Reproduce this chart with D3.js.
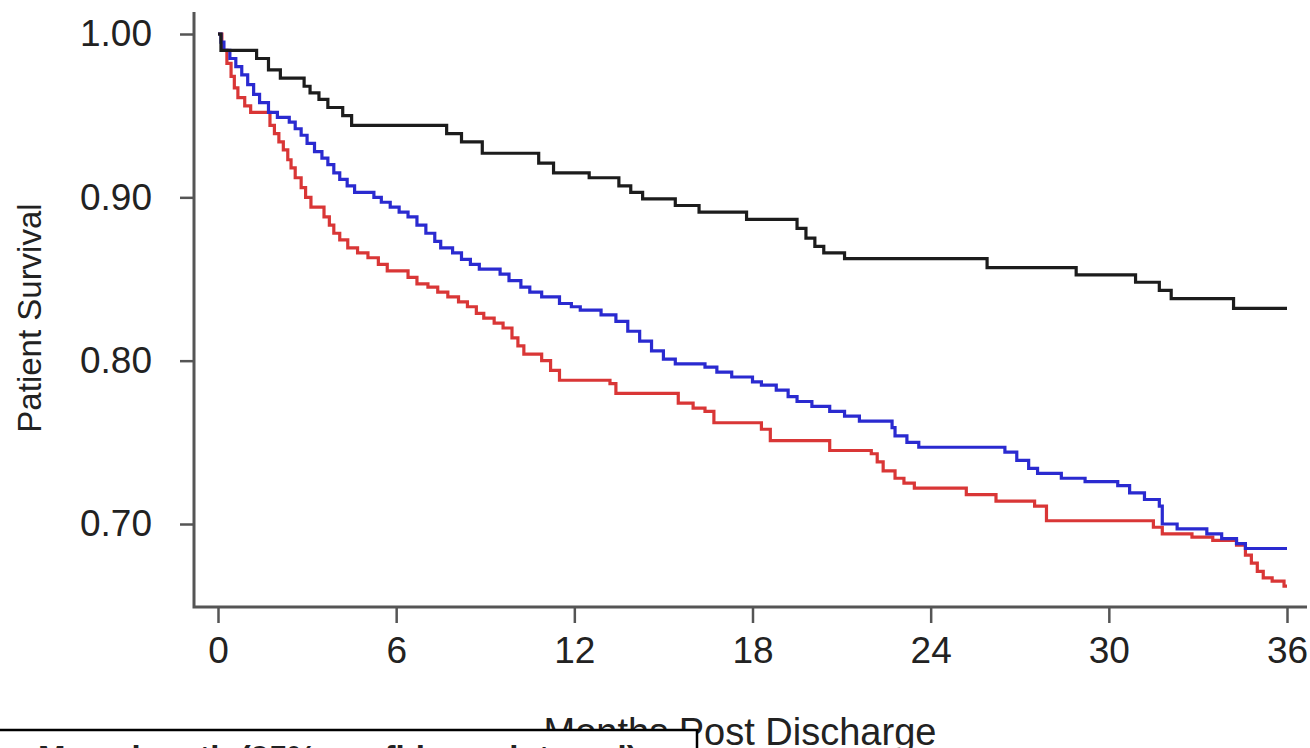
<!DOCTYPE html>
<html>
<head>
<meta charset="utf-8">
<script src="https://cdn.jsdelivr.net/npm/d3@7"></script>
<style>
  html, body { margin: 0; padding: 0; background: #fff; overflow: hidden; }
  svg { display: block; }
  text { font-family: "Liberation Sans", Arial, sans-serif; fill: #222; }
</style>
</head>
<body>
<div id="chart"></div>
<script>
// tick values
var xTicks = [0, 6, 12, 18, 24, 30, 36];
var yTicks = [0.70, 0.80, 0.90, 1.00];

// survival steps [month, survival]
var blackSteps = [[0,1.0],[0.1,0.99],[1.3,0.985],[1.7,0.978],[2.1,0.973],[2.9,0.968],[3.1,0.964],[3.4,0.96],
  [3.7,0.955],[4.2,0.95],[4.5,0.944],[7.7,0.939],[8.2,0.934],[8.9,0.927],[10.8,0.921],[11.3,0.915],
  [12.5,0.912],[13.5,0.907],[13.9,0.903],[14.3,0.899],[15.4,0.895],[16.2,0.891],[17.8,0.8865],[19.5,0.881],
  [19.8,0.875],[20.1,0.870],[20.4,0.866],[21.1,0.8625],[25.9,0.857],[28.9,0.8525],[30.9,0.848],[31.7,0.843],
  [32.1,0.838],[34.2,0.832],[36,0.832]];

var blueSteps = [[0,1],[0.1,0.995],[0.2,0.99],[0.4,0.985],[0.6,0.98],[0.8,0.975],[1.0,0.969],[1.2,0.963],
  [1.4,0.958],[1.7,0.952],[2.0,0.949],[2.4,0.946],[2.6,0.942],[2.8,0.938],[3.0,0.933],[3.25,0.928],
  [3.5,0.924],[3.7,0.92],[3.9,0.915],[4.1,0.911],[4.35,0.907],[4.6,0.903],[5.25,0.9],[5.5,0.897],
  [5.8,0.894],[6.1,0.891],[6.4,0.888],[6.7,0.883],[7.0,0.878],[7.3,0.873],[7.5,0.869],[7.9,0.866],
  [8.2,0.862],[8.5,0.859],[8.8,0.856],[9.5,0.853],[9.8,0.849],[10.2,0.845],[10.5,0.842],[10.9,0.839],
  [11.5,0.835],[11.9,0.833],[12.2,0.831],[12.9,0.828],[13.4,0.824],[13.8,0.818],[14.2,0.812],[14.6,0.806],
  [15.0,0.801],[15.4,0.798],[16.4,0.796],[16.8,0.793],[17.3,0.79],[18.0,0.787],[18.3,0.785],[18.8,0.782],
  [19.2,0.778],[19.5,0.775],[20.0,0.772],[20.6,0.769],[21.1,0.766],[21.6,0.763],[22.7,0.759],[22.8,0.754],
  [23.2,0.75],[23.6,0.747],[26.5,0.744],[26.9,0.739],[27.3,0.734],[27.6,0.731],[28.4,0.728],[29.2,0.726],
  [30.3,0.7235],[30.7,0.719],[31.2,0.715],[31.7,0.711],[31.8,0.7],[32.3,0.697],[33.3,0.694],[33.8,0.691],
  [34.3,0.688],[34.6,0.685],[36,0.685]];

var redSteps = [[0,1],[0.13,0.99],[0.3,0.982],[0.44,0.974],[0.55,0.967],[0.67,0.961],[0.9,0.956],[1.1,0.952],
  [1.75,0.944],[1.9,0.939],[2.05,0.934],[2.2,0.929],[2.35,0.923],[2.46,0.918],[2.6,0.912],[2.8,0.906],
  [2.95,0.9],[3.13,0.894],[3.57,0.888],[3.75,0.883],[3.9,0.878],[4.1,0.874],[4.37,0.869],[4.7,0.866],
  [5.05,0.863],[5.4,0.859],[5.7,0.855],[6.4,0.851],[6.7,0.847],[7.07,0.845],[7.4,0.842],[7.74,0.839],
  [8.1,0.836],[8.4,0.833],[8.7,0.829],[8.95,0.826],[9.3,0.823],[9.6,0.82],[9.9,0.814],[10.1,0.809],
  [10.3,0.804],[10.9,0.8],[11.2,0.794],[11.5,0.788],[13.2,0.786],[13.4,0.78],[15.5,0.774],[16.0,0.771],
  [16.4,0.769],[16.7,0.762],[18.3,0.758],[18.6,0.751],[20.6,0.745],[22.0,0.743],[22.2,0.738],[22.4,0.7325],
  [22.8,0.728],[23.1,0.725],[23.45,0.722],[25.2,0.718],[26.2,0.714],[27.5,0.711],[27.9,0.702],[31.5,0.698],
  [31.8,0.694],[32.8,0.692],[33.5,0.69],[34.3,0.687],[34.6,0.681],[34.8,0.676],[35.0,0.671],[35.2,0.667],
  [35.5,0.665],[35.9,0.662],[36,0.662]];

var width = 1310, height = 748;

var svg = d3.select("#chart").append("svg")
    .attr("width", width)
    .attr("height", height);

// plot region (L shaped frame like base R)
var x = d3.scaleLinear().domain([0, 36]).range([218, 1287]);
var y = d3.scaleLinear().domain([0.70, 1.00]).range([524, 34]);
var frameLeft = 194, frameRight = 1307, frameTop = 12, frameBottom = 607;

var line = d3.line()
    .x(function(d) { return x(d[0]); })
    .y(function(d) { return y(d[1]); })
    .curve(d3.curveStepAfter);

var series = [
    {steps: redSteps, color: "#d93636"},
    {steps: blueSteps, color: "#2a2ad0"},
    {steps: blackSteps, color: "#1c1c1c"}
];

svg.selectAll(".km")
    .data(series)
    .enter().append("path")
    .attr("class", "km")
    .attr("fill", "none")
    .attr("stroke", function(d) { return d.color; })
    .attr("stroke-width", 3.2)
    .attr("d", function(d) { return line(d.steps); });

// axes
var yAxis = d3.axisLeft(y).tickValues(yTicks).tickFormat(d3.format(".2f"))
    .tickSize(14).tickPadding(28);
var xAxis = d3.axisBottom(x).tickValues(xTicks).tickFormat(d3.format("d"))
    .tickSize(16).tickPadding(14);

var gy = svg.append("g").attr("transform", "translate(" + frameLeft + ",0)").call(yAxis);
var gx = svg.append("g").attr("transform", "translate(0," + frameBottom + ")").call(xAxis);

[gy, gx].forEach(function(g) {
    g.select(".domain").remove();
    g.selectAll(".tick line").attr("stroke", "#555").attr("stroke-width", 2.5);
    g.selectAll(".tick text").attr("fill", "#222").style("font-size", "37px");
});

// L frame
svg.append("path")
    .attr("d", "M" + frameLeft + "," + frameTop + "V" + frameBottom + "H" + frameRight)
    .attr("fill", "none")
    .attr("stroke", "#555")
    .attr("stroke-width", 3);

// axis titles
svg.append("text")
    .attr("transform", "translate(41,318) rotate(-90)")
    .attr("text-anchor", "middle")
    .style("font-size", "33px")
    .text("Patient Survival");

svg.append("text")
    .attr("x", 740)
    .attr("y", 745)
    .attr("text-anchor", "middle")
    .style("font-size", "38px")
    .text("Months Post Discharge");

// legend box, cut off at the bottom like the source
var legend = svg.append("g");
legend.append("rect")
    .attr("x", -2).attr("y", 730)
    .attr("width", 699).attr("height", 80)
    .attr("fill", "#fff")
    .attr("stroke", "#000")
    .attr("stroke-width", 2.5);
legend.append("text")
    .attr("x", 38).attr("y", 769)
    .style("font-size", "33px")
    .style("font-weight", "bold")
    .text("Mean length (95% confidence interval)");
</script>
</body>
</html>
